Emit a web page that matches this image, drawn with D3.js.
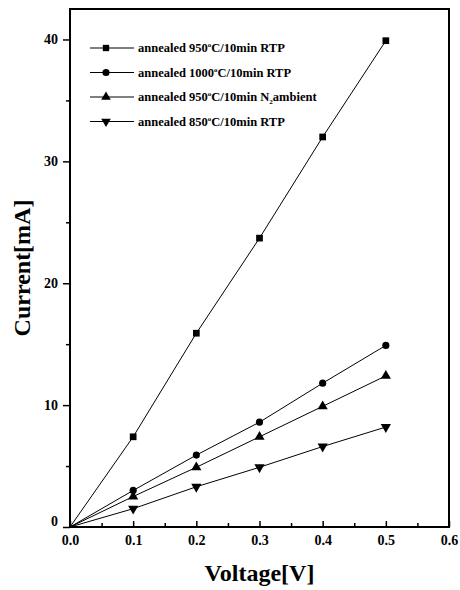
<!DOCTYPE html>
<html>
<head>
<meta charset="utf-8">
<script src="https://cdn.jsdelivr.net/npm/d3@7"></script>
<style>
body{margin:0;background:#fff;}
text{font-family:"Liberation Serif","DejaVu Serif",serif;font-weight:bold;fill:#000;}
</style>
</head>
<body>
<script>
const WIDTH=460, HEIGHT=590;
const margin={left:70,right:11,top:9,bottom:63};

// data
const voltage=[0,0.1,0.2,0.3,0.4,0.5];
const rtp950=[0,7.4,15.9,23.7,32,39.9];
const rtp1000=[0,3.0,5.9,8.6,11.8,14.9];
const n2_950=[0,2.5,4.9,7.4,9.9,12.4];
const rtp850=[0,1.5,3.3,4.9,6.6,8.2];
const seriesNames=["annealed 950","annealed 1000","annealed 950","annealed 850"];
const seriesTail=["C/10min RTP","C/10min RTP","C/10min N","C/10min RTP"];
const xTicks=[0,0.1,0.2,0.3,0.4,0.5,0.6];
const yTicks=[0,10,20,30,40];

const series=[
  {vals:rtp950,sym:d3.symbolSquare},
  {vals:rtp1000,sym:d3.symbolCircle},
  {vals:n2_950,sym:d3.symbolTriangle},
  {vals:rtp850,sym:d3.symbolTriangle,flip:true}
];

let svg=d3.select("body").append("svg").attr("width",WIDTH).attr("height",HEIGHT);
let iw=WIDTH-margin.left-margin.right, ih=HEIGHT-margin.top-margin.bottom;
let g=svg.append("g").attr("transform",`translate(${margin.left},${margin.top})`);

let x=d3.scaleLinear().domain([0,0.6]).range([0,iw]);
let y=d3.scaleLinear().domain([0,42.5]).range([ih,0]);

// frame
g.append("rect").attr("width",iw).attr("height",ih).attr("fill","none").attr("stroke","#000").attr("stroke-width",2);

// x axis, ticks inward
let xa=g.append("g").attr("transform",`translate(0,${ih})`)
  .call(d3.axisBottom(x).tickValues(xTicks).tickFormat(d3.format(".1f")).tickSizeInner(-6).tickSizeOuter(0).tickPadding(8));
xa.append("g").call(d3.axisBottom(x).tickValues(d3.range(0.05,0.6,0.1)).tickFormat("").tickSizeInner(-4).tickSizeOuter(0));
// y axis, ticks outward
let ya=g.append("g")
  .call(d3.axisLeft(y).tickValues(yTicks).tickFormat(d3.format("d")).tickSizeInner(7).tickSizeOuter(0).tickPadding(5));
ya.append("g").call(d3.axisLeft(y).tickValues([5,15,25,35]).tickFormat("").tickSizeInner(4).tickSizeOuter(0));
g.selectAll(".domain").remove();
g.selectAll(".tick line").attr("stroke","#000").attr("stroke-width",1.5);
g.selectAll(".tick text").style("font-size","14px").attr("fill","#000");
ya.selectAll(".tick text").filter(d=>d===0).attr("dy","-0.1em");

// lines and markers
let line=d3.line().x((d,i)=>x(voltage[i])).y(d=>y(d));
series.forEach(s=>{
  g.append("path").datum(s.vals).attr("d",line).attr("fill","none").attr("stroke","#000").attr("stroke-width",1);
  g.selectAll(null).data(s.vals.slice(1)).enter().append("path")
    .attr("d",d3.symbol().type(s.sym).size(s.sym===d3.symbolCircle?40:45))
    .attr("transform",(d,i)=>`translate(${x(voltage[i+1])},${y(d)})${s.flip?" rotate(180)":""}`)
    .attr("fill","#000");
});

// legend
let lg=g.append("g").attr("transform","translate(20,39)");
series.forEach((s,i)=>{
  let r=lg.append("g").attr("transform",`translate(0,${i*24.5})`);
  r.append("line").attr("x1",0).attr("x2",44).attr("stroke","#000").attr("stroke-width",1);
  r.append("path").attr("d",d3.symbol().type(s.sym).size(40))
    .attr("transform",`translate(16,0)${s.flip?" rotate(180)":""}`).attr("fill","#000");
  let t=r.append("text").attr("x",48).attr("y",4).style("font-size","12.5px");
  t.append("tspan").text(seriesNames[i]);
  t.append("tspan").attr("dy",-5).style("font-size","7px").text("o");
  t.append("tspan").attr("dy",5).text(seriesTail[i]);
  if(i===2){
    t.append("tspan").attr("dy",3).style("font-size","7px").text("2");
    t.append("tspan").attr("dy",-3).text("ambient");
  }
});

// axis titles
svg.append("text").attr("x",margin.left+iw/2).attr("y",581).attr("text-anchor","middle")
  .style("font-size","24px").text("Voltage[V]");
svg.append("text").attr("transform","translate(30,268) rotate(-90)").attr("text-anchor","middle")
  .style("font-size","24px").text("Current[mA]");
</script>
</body>
</html>
